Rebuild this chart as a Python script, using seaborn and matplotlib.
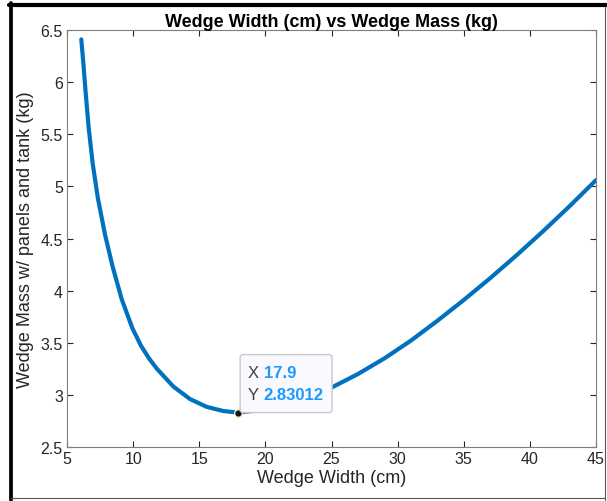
import numpy as np
import pandas as pd
import matplotlib
matplotlib.use("Agg")
import matplotlib.pyplot as plt
import seaborn as sns
from matplotlib.lines import Line2D
from matplotlib.patches import FancyBboxPatch
from matplotlib.transforms import ScaledTranslation

# values
width_cm = [6.08, 6.23, 6.41, 6.64, 6.94, 7.33, 7.87, 8.45, 9.13, 9.94, 10.6, 11.2,
            11.8, 13.04, 14.3, 15.56, 16.82, 17.9, 20.0, 22.0, 23.5, 25.0, 27.0,
            29.0, 31.0, 33.0, 35.0, 37.0, 39.0, 41.0, 43.0, 45.0]
mass_kg = [6.41, 6.19, 5.90, 5.56, 5.22, 4.89, 4.54, 4.23, 3.92, 3.64, 3.47, 3.35,
           3.25, 3.08, 2.96, 2.885, 2.845, 2.83, 2.86, 2.93, 2.99, 3.07, 3.20,
           3.35, 3.52, 3.71, 3.91, 4.12, 4.34, 4.57, 4.81, 5.06]
tip_x = 17.9
tip_y = 2.83012

df = pd.DataFrame({"width": width_cm, "mass": mass_kg})

sns.set_theme(style="white")
plt.rcParams["font.family"] = ["Liberation Sans", "DejaVu Sans"]

fig = plt.figure(figsize=(6.07, 5.02), dpi=100)
ax = fig.add_axes([0.1104, 0.1076, 0.8715, 0.8306])

sns.lineplot(data=df, x="width", y="mass", sort=False, estimator=None,
             color="#0072BD", linewidth=3.0, ax=ax)

ax.set_xlim(5, 45)
ax.set_ylim(2.5, 6.5)
xt = np.arange(5, 46, 5)
yt = np.arange(2.5, 6.51, 0.5)
ax.set_xticks(xt)
ax.set_yticks(yt)
ax.set_xticklabels([f"{v:g}" for v in xt])
ax.set_yticklabels([f"{v:g}" for v in yt])
ax.tick_params(direction="in", length=4, width=0.8, color="#262626",
               labelsize=11.5, labelcolor="#262626", top=True, right=True,
               bottom=True, left=True, pad=3)
for s in ax.spines.values():
    s.set_color("#7f7f7f")
    s.set_linewidth(0.8)

ax.set_xlabel("Wedge Width (cm)", fontsize=13, color="#262626", labelpad=2)
ax.set_ylabel("Wedge Mass w/ panels and tank (kg)", fontsize=13, color="#262626", labelpad=5)
ax.set_title("Wedge Width (cm) vs Wedge Mass (kg)", fontsize=13, fontweight="bold",
             color="black", pad=3)

# data tip
ax.scatter([tip_x], [tip_y], s=30, color="#111111", edgecolor="#f5e9a8",
           linewidth=1.0, zorder=6)


def off(dx, dy):
    return ax.transData + ScaledTranslation(dx / 100, dy / 100, fig.dpi_scale_trans)


box = FancyBboxPatch((0.025, 0.0), 0.92, 0.58, boxstyle="round,pad=0,rounding_size=0.03",
                     facecolor="#f9f9ff", edgecolor="#c8c8c8", linewidth=1.0, zorder=7)
box.set_transform(fig.dpi_scale_trans + ScaledTranslation(tip_x, tip_y, ax.transData))
ax.add_patch(box)

ax.text(tip_x, tip_y, "X", transform=off(10, 40), fontsize=12, color="#404040",
        va="center", ha="left", zorder=8)
ax.text(tip_x, tip_y, "17.9", transform=off(26, 40), fontsize=12, color="#1a9bff",
        fontweight="bold", va="center", ha="left", zorder=8)
ax.text(tip_x, tip_y, "Y", transform=off(10, 18), fontsize=12, color="#404040",
        va="center", ha="left", zorder=8)
ax.text(tip_x, tip_y, "2.83012", transform=off(26, 18), fontsize=12, color="#1a9bff",
        fontweight="bold", va="center", ha="left", zorder=8)

# screenshot frame
W, H = 607, 502
fig.add_artist(Line2D([9 / W, 1], [1 - 6 / H, 1 - 6 / H], color="black", linewidth=3,
                      transform=fig.transFigure))
fig.add_artist(Line2D([11 / W, 11 / W], [1 / H, 1 - 4 / H], color="black", linewidth=2.7,
                      transform=fig.transFigure))
fig.add_artist(Line2D([605 / W, 605 / W], [1 / H, 1 - 8 / H], color="#555555", linewidth=0.8,
                      transform=fig.transFigure))
fig.add_artist(Line2D([11 / W, 605 / W], [3 / H, 3 / H], color="#555555", linewidth=0.8,
                      transform=fig.transFigure))

fig.savefig("out.png", dpi=100)
